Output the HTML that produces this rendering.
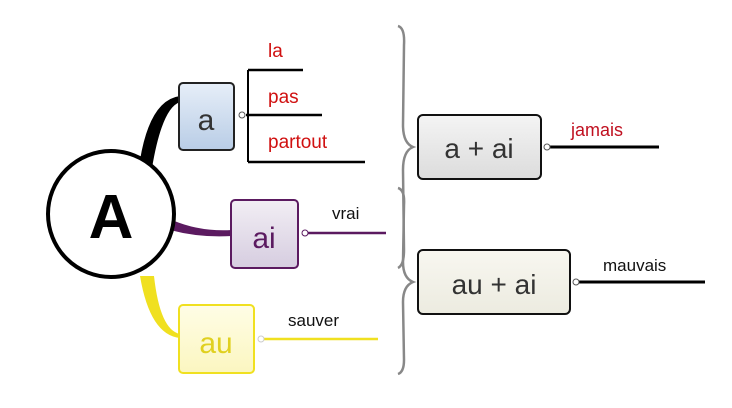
<!DOCTYPE html>
<html><head><meta charset="utf-8"><style>
html,body{margin:0;padding:0;background:#fff;}
svg{display:block;}
text{font-family:"Liberation Sans",sans-serif;}
</style></head><body>
<svg width="732" height="408" viewBox="0 0 732 408" xmlns="http://www.w3.org/2000/svg">
<defs>
<linearGradient id="gb" x1="0" y1="0" x2="0" y2="1"><stop offset="0" stop-color="#e6eef8"/><stop offset="1" stop-color="#b9cde6"/></linearGradient>
<linearGradient id="gp" x1="0" y1="0" x2="0" y2="1"><stop offset="0" stop-color="#f2eef4"/><stop offset="1" stop-color="#d6cde0"/></linearGradient>
<linearGradient id="gy" x1="0" y1="0" x2="0" y2="1"><stop offset="0" stop-color="#fffde6"/><stop offset="1" stop-color="#fbf6c0"/></linearGradient>
<linearGradient id="gg" x1="0" y1="0" x2="0" y2="1"><stop offset="0" stop-color="#f4f4f4"/><stop offset="1" stop-color="#dcdcdc"/></linearGradient>
<linearGradient id="gc" x1="0" y1="0" x2="0" y2="1"><stop offset="0" stop-color="#f8f7f0"/><stop offset="1" stop-color="#ecebe0"/></linearGradient>
</defs>
<!-- braces -->
<path d="M398 26 Q405 28 404 45 L403 125 Q403 143 413 147 Q403 151 403 170 L404 250 Q404 265 398 268" fill="none" stroke="#888" stroke-width="2.5"/>
<path d="M398 188 Q405 190 404 205 L403 262 Q403 278 413 282 Q403 286 403 302 L404 360 Q404 372 398 374" fill="none" stroke="#888" stroke-width="2.5"/>
<!-- branches -->
<path d="M140 160 Q150 100 180 96 L180 102 Q162 108 152 168 Z" fill="#000"/>
<path d="M172 220 Q200 232 232 230 L232 236 Q200 238 170 230 Z" fill="#5b1a60"/>
<path d="M140 276 Q150 335 180 338 L180 334 Q160 330 154 276 Z" fill="#f0e020"/>
<!-- circle -->
<circle cx="111" cy="214" r="63" fill="#fff" stroke="#000" stroke-width="4"/>
<text x="111" y="238" font-size="62" font-weight="bold" text-anchor="middle" fill="#000">A</text>
<!-- box a -->
<rect x="179" y="83" width="55" height="67" rx="4" fill="url(#gb)" stroke="#222" stroke-width="2"/>
<text x="206" y="130" font-size="30" text-anchor="middle" fill="#333">a</text>
<line x1="246" y1="115" x2="322" y2="115" stroke="#000" stroke-width="2.5"/>
<line x1="248" y1="70" x2="248" y2="162" stroke="#000" stroke-width="2"/>
<line x1="248" y1="70" x2="303" y2="70" stroke="#000" stroke-width="2.5"/>
<line x1="248" y1="162" x2="365" y2="162" stroke="#000" stroke-width="2.5"/>
<circle cx="242" cy="115" r="3" fill="#fff" stroke="#555"/>
<text x="268" y="57" font-size="19" fill="#d01010">la</text>
<text x="268" y="103" font-size="19" fill="#d01010">pas</text>
<text x="268" y="148" font-size="19" fill="#d01010">partout</text>
<!-- box ai -->
<rect x="231" y="200" width="67" height="68" rx="4" fill="url(#gp)" stroke="#5b1a60" stroke-width="2"/>
<text x="264" y="248" font-size="30" text-anchor="middle" fill="#5b1a60">ai</text>
<line x1="308" y1="233" x2="386" y2="233" stroke="#5b1a60" stroke-width="2.5"/>
<circle cx="305" cy="233" r="3" fill="#fff" stroke="#5b1a60"/>
<text x="332" y="219" font-size="17" fill="#111">vrai</text>
<!-- box au -->
<rect x="179" y="305" width="75" height="68" rx="4" fill="url(#gy)" stroke="#f0e020" stroke-width="2"/>
<text x="216" y="353" font-size="30" text-anchor="middle" fill="#e0d020">au</text>
<line x1="264" y1="339" x2="378" y2="339" stroke="#f0e020" stroke-width="2.5"/>
<circle cx="261" cy="339" r="3" fill="#fff" stroke="#ccc"/>
<text x="288" y="326" font-size="17" fill="#111">sauver</text>
<!-- a + ai -->
<rect x="418" y="115" width="123" height="64" rx="5" fill="url(#gg)" stroke="#111" stroke-width="2"/>
<text x="479" y="158" font-size="28" text-anchor="middle" fill="#333">a + ai</text>
<line x1="549" y1="147" x2="659" y2="147" stroke="#000" stroke-width="3"/>
<circle cx="547" cy="147" r="3" fill="#fff" stroke="#555"/>
<text x="571" y="136" font-size="18" fill="#c01020">jamais</text>
<!-- au + ai -->
<rect x="418" y="250" width="152" height="64" rx="5" fill="url(#gc)" stroke="#111" stroke-width="2"/>
<text x="494" y="294" font-size="28" text-anchor="middle" fill="#333">au + ai</text>
<line x1="578" y1="282" x2="705" y2="282" stroke="#000" stroke-width="3"/>
<circle cx="576" cy="282" r="3" fill="#fff" stroke="#555"/>
<text x="603" y="271" font-size="17" fill="#111">mauvais</text>
</svg>
</body></html>
